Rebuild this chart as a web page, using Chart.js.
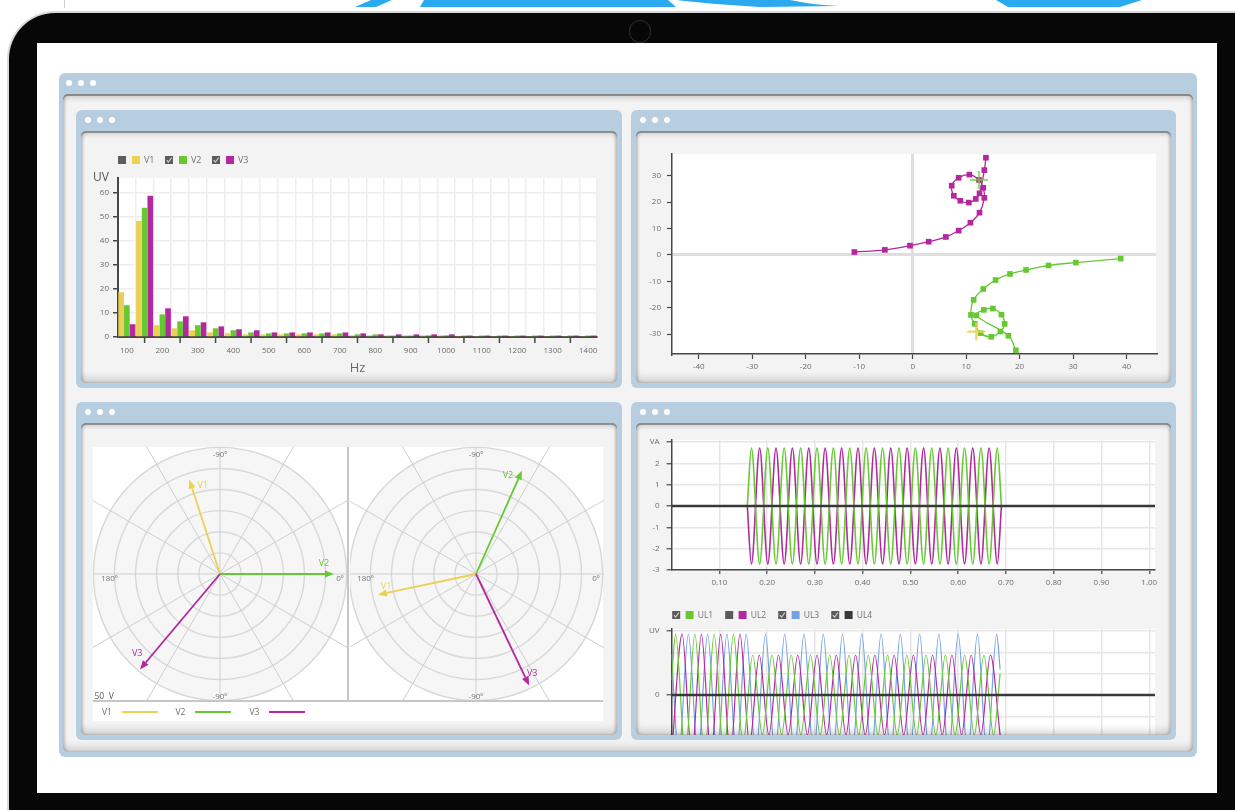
<!DOCTYPE html>
<html lang="en">
<head>
<meta charset="utf-8">
<title>Power quality dashboard</title>
<script src="https://cdn.jsdelivr.net/npm/chart.js@4.4.1/dist/chart.umd.min.js"></script>
<style>
  html, body { margin: 0; padding: 0; }
  body { position: relative; width: 1235px; height: 810px; overflow: hidden; background: #fff;
         font-family: "Open Sans", "DejaVu Sans", sans-serif; }
  .abs { position: absolute; }
  .tablet { left: 9px; top: 13px; width: 1290px; height: 860px; background: #070707; border-radius: 46px;
            box-shadow: 0 0 0 2px #d9d9d9; }
  .camera { left: 629px; top: 20px; width: 22px; height: 23px; border-radius: 50%; border: 1px solid #2a2a2a; box-sizing: border-box; }
  .screen { left: 37px; top: 43px; width: 1180px; height: 750px; background: #fff; }
  .frame { background: #b7cde0; border-radius: 6px; }
  .dot { width: 6px; height: 6px; border-radius: 50%; background: #fff; }
  .inner { background: #f3f3f3; border-radius: 5px; overflow: hidden; }
  .shade { border-radius: 5px; pointer-events: none;
           box-shadow: inset 0 2px 0 rgba(105,105,105,.6), inset 0 4px 4px rgba(0,0,0,.14),
                       inset 2px 0 3px rgba(0,0,0,.16), inset -2px 0 3px rgba(0,0,0,.16),
                       inset 0 -8px 8px -4px rgba(0,0,0,.17); }
  canvas { position: absolute; display: block; }
  .clip { position: absolute; overflow: hidden; }
  .whitebox { position: absolute; background: #fff; }
  .divider { position: absolute; background: #c6c6c6; }
  .cap { position: absolute; font-size: 8.5px; color: #6e6e6e; line-height: 10px; white-space: nowrap; }
  .swatch { position: absolute; height: 2px; }
</style>
</head>
<body>

<svg class="abs" style="left:0;top:0" width="1235" height="12">
  <line x1="64.5" y1="0" x2="64.5" y2="8" stroke="#cfcfcf" stroke-width="1"/>
  <polygon points="371,0 392,0 376,7 355,7" fill="#2aa9ef"/>
  <polygon points="424,0 668,0 676,7 420,7" fill="#2aa9ef"/>
  <path d="M676,0 L790,0 C805,3 818,5 838,6 L760,7 C730,5 700,3 676,0 Z" fill="#2aa9ef"/>
  <polygon points="996,0 1142,0 1120,7 1008,7" fill="#2aa9ef"/>
</svg>

<div class="abs tablet"></div>
<div class="abs camera"></div>
<div class="abs screen"></div>

<!-- outer window -->
<div class="abs frame" style="left:59px;top:73px;width:1138px;height:684px"></div>
<div class="abs dot" style="left:66px;top:80px"></div>
<div class="abs dot" style="left:78px;top:80px"></div>
<div class="abs dot" style="left:90px;top:80px"></div>
<div class="abs inner" style="left:63px;top:94px;width:1130px;height:658px"></div>

<!-- four panel frames -->
<div class="abs frame" style="left:76px;top:110px;width:546px;height:278px"></div>
<div class="abs frame" style="left:631px;top:110px;width:545px;height:278px"></div>
<div class="abs frame" style="left:76px;top:402px;width:546px;height:338px"></div>
<div class="abs frame" style="left:631px;top:402px;width:545px;height:338px"></div>
<div class="abs dot" style="left:85px;top:117px"></div><div class="abs dot" style="left:97px;top:117px"></div><div class="abs dot" style="left:109px;top:117px"></div>
<div class="abs dot" style="left:640px;top:117px"></div><div class="abs dot" style="left:652px;top:117px"></div><div class="abs dot" style="left:664px;top:117px"></div>
<div class="abs dot" style="left:85px;top:409px"></div><div class="abs dot" style="left:97px;top:409px"></div><div class="abs dot" style="left:109px;top:409px"></div>
<div class="abs dot" style="left:640px;top:409px"></div><div class="abs dot" style="left:652px;top:409px"></div><div class="abs dot" style="left:664px;top:409px"></div>

<!-- harmonic spectrum -->
<div class="abs inner" style="left:81px;top:131px;width:536px;height:252px">
  <canvas id="spectrum" width="536" height="252" style="left:0;top:0"></canvas>
</div>

<!-- voltage locus -->
<div class="abs inner" style="left:636px;top:131px;width:535px;height:252px">
  <canvas id="locus" width="535" height="252" style="left:0;top:0"></canvas>
</div>

<!-- phasor dials -->
<div class="abs inner" style="left:81px;top:423px;width:536px;height:312px">
  <div class="whitebox" style="left:12px;top:24px;width:510px;height:274px"></div>
  <div class="clip" style="left:12px;top:24px;width:254px;height:253px">
    <canvas id="dialA" width="380" height="380" style="left:-63.5px;top:-63px"></canvas>
  </div>
  <div class="clip" style="left:268.5px;top:24px;width:254px;height:253px">
    <canvas id="dialB" width="380" height="380" style="left:-63.5px;top:-63px"></canvas>
  </div>
  <div class="divider" style="left:265.5px;top:24px;width:2.5px;height:254px"></div>
  <div class="divider" style="left:12px;top:276.5px;width:510px;height:2.5px"></div>
  <div class="cap" style="left:13.5px;top:268px;color:#5a5a5a">50&nbsp;&nbsp;V</div>
  <div id="dialLegend"></div>
</div>

<!-- waveforms -->
<div class="abs inner" style="left:636px;top:423px;width:535px;height:312px">
  <canvas id="waveVA" width="535" height="170" style="left:0;top:2px"></canvas>
  <canvas id="waveUV" width="535" height="170" style="left:0;top:182px"></canvas>
</div>

<div class="abs shade" style="left:63px;top:94px;width:1130px;height:658px;box-shadow:inset 0 2px 0 rgba(105,105,105,.65), inset 0 4px 5px rgba(0,0,0,.16), inset 2px 0 3px rgba(0,0,0,.14), inset -2px 0 3px rgba(0,0,0,.14), inset 0 -8px 8px -4px rgba(0,0,0,.16)"></div>
<div class="abs shade" style="left:81px;top:131px;width:536px;height:252px"></div>
<div class="abs shade" style="left:636px;top:131px;width:535px;height:252px"></div>
<div class="abs shade" style="left:81px;top:423px;width:536px;height:312px"></div>
<div class="abs shade" style="left:636px;top:423px;width:535px;height:312px"></div>

<script>
// ---------- harmonic spectrum ----------
const hzLabels = ['100','150','200','250','300','350','400','450','500','550','600','650','700','750',
                  '800','850','900','950','1000','1050','1100','1150','1200','1250','1300','1350','1400'];
const v1Levels = [18.6,48.2,4.9,3.6,2.8,1.9,1.5,1.1,1.1,1.1,1.1,1.1,1.1,0.7,0.7,0.7,0.7,0.7,0.7,0.4,0.4,0.4,0.4,0.4,0.4,0.4,0.4];
const v2Levels = [13.2,53.6,9.4,6.5,4.9,3.6,2.8,1.9,1.5,1.5,1.5,1.5,1.5,1.1,1.1,0.6,0.6,0.7,0.7,0.6,0.6,0.6,0.6,0.6,0.6,0.6,0.6];
const v3Levels = [5.3,58.6,11.9,8.6,6.1,4.4,3.2,2.8,1.9,1.9,1.9,1.9,1.9,1.5,1.1,1.1,1.1,1.1,1.1,0.6,0.6,0.6,0.6,0.6,0.6,0.6,0.6];
const spectrumTicks = [0, 10, 20, 30, 40, 50, 60, 66];
const spectrumUnitTick = 66;

// ---------- voltage locus (real / imaginary parts) ----------
const v3LocusRe = [-10.9,-5.2,-0.5,3.0,6.2,8.6,10.8,12.5,13.4,13.2,12.4,10.6,8.6,7.3,7.7,8.9,10.5,11.8,12.5,13.4,13.7];
const v3LocusIm = [1.1,1.9,3.5,5.0,6.8,9.2,12.2,16.0,21.6,25.4,28.4,30.4,29.2,26.2,22.4,20.5,19.8,21.2,23.3,32.1,36.8];
const v2LocusRe = [38.9,30.5,25.4,21.2,18.2,15.5,13.2,11.4,10.9,11.6,12.7,14.7,16.4,17.2,16.6,15.0,13.3,11.9,17.9,19.3];
const v2LocusIm = [-1.4,-2.9,-4.0,-5.7,-7.2,-9.5,-12.9,-17.0,-22.7,-26.1,-29.6,-31.0,-29.0,-26.1,-22.6,-20.3,-20.8,-22.9,-30.6,-36.1];
const v2RefRe = [12.4], v2RefIm = [28.4];
const v1RefRe = [11.9], v1RefIm = [-29.0];
const reTicks = [-40,-30,-20,-10,0,10,20,30,40];
const imTicks = [-30,-20,-10,0,10,20,30];

// ---------- phasors (degrees, clockwise from 0º; volts) ----------
const phasorNames = ['V1','V2','V3'];
const dialLabels = ['-90º','','','0º','','','-90º','','','180º','',''];
const phasorAnglesA = [-108, 0, 130];
const phasorVoltsA = [47, 54, 59];
const phasorAnglesB = [168, -66, 64.5];
const phasorVoltsB = [47.5, 53.5, 58.5];

// ---------- waveforms: turning points of each trace (s, value) ----------
const timeTicks = [0.1,0.2,0.3,0.4,0.5,0.6,0.7,0.8,0.9,1.0];
const vaTicks = [-3,-2,-1,0,1,2,3];
const vaTimes = [0.1585,0.1671,0.1843,0.2014,0.2186,0.2357,0.2529,0.2701,0.2872,0.3044,0.3215,0.3387,0.3559,0.3730,0.3902,0.4073,
                 0.4245,0.4417,0.4588,0.4760,0.4931,0.5103,0.5275,0.5446,0.5618,0.5789,0.5961,0.6133,0.6304,0.6476,0.6647,0.6819,0.6905];
const vaUL1 = [0, 2.72,-2.72, 2.72,-2.72, 2.72,-2.72, 2.72,-2.72, 2.72,-2.72, 2.72,-2.72, 2.72,-2.72, 2.72,-2.72,
               2.72,-2.72, 2.72,-2.72, 2.72,-2.72, 2.72,-2.72, 2.72,-2.72, 2.72,-2.72, 2.72,-2.72, 2.72, 0];
const vaUL2 = [0,-2.72, 2.72,-2.72, 2.72,-2.72, 2.72,-2.72, 2.72,-2.72, 2.72,-2.72, 2.72,-2.72, 2.72,-2.72, 2.72,
               -2.72, 2.72,-2.72, 2.72,-2.72, 2.72,-2.72, 2.72,-2.72, 2.72,-2.72, 2.72,-2.72, 2.72,-2.72, 0];

const uvTicks = [-3,-2,-1,0,1,2,3];
const ul1Times = [0,0.0084,0.0286,0.0487,0.0689,0.0891,0.1093,0.1294,0.1496,0.1698,0.1900,0.2101,0.2303,0.2504,0.2706,0.2908,0.3110,0.3311,
                  0.3513,0.3715,0.3917,0.4118,0.4320,0.4521,0.4723,0.4925,0.5127,0.5328,0.5530,0.5732,0.5934,0.6135,0.6337,0.6538,0.6740,0.6878];
const ul1Values = [0.7, 2.86,-2.86, 2.86,-2.86, 2.86,-2.86, 2.86,-2.3,
                   1.88,-1.88, 1.88,-1.88, 1.88,-1.88, 1.88,-1.88, 1.88,-1.88, 1.88,-1.88, 1.88,-1.88,
                   1.88,-1.88, 1.88,-1.88, 1.88,-1.88, 1.88,-1.88, 1.88,-1.88, 1.88,-1.88, 1.0];
const ul2Times = [0,0.0221,0.0423,0.0624,0.0826,0.1028,0.1230,0.1431,0.1633,0.1835,0.2037,0.2238,0.2440,0.2641,0.2843,0.3045,0.3247,0.3448,
                  0.3650,0.3852,0.4054,0.4255,0.4457,0.4658,0.4860,0.5062,0.5264,0.5465,0.5667,0.5869,0.6071,0.6272,0.6474,0.6675,0.6878];
const ul2Values = [-2.8, 2.86,-2.86, 2.86,-2.86, 2.86,-2.86, 2.86,-2.3,
                   1.88,-1.88, 1.88,-1.88, 1.88,-1.88, 1.88,-1.88, 1.88,-1.88, 1.88,-1.88, 1.88,-1.88,
                   1.88,-1.88, 1.88,-1.88, 1.88,-1.88, 1.88,-1.88, 1.88,-1.88, 1.88,-1.88];
const ul3Times = [0,0.0149,0.0351,0.0552,0.0754,0.0956,0.1158,0.1359,0.1561,0.1763,0.1965,0.2166,0.2368,0.2569,0.2771,0.2973,0.3175,0.3376,
                  0.3578,0.3780,0.3982,0.4183,0.4385,0.4586,0.4788,0.4990,0.5192,0.5393,0.5595,0.5797,0.5999,0.6200,0.6402,0.6603,0.6805,0.6878];
const ul3Values = [1.9, -2.86,2.86, -2.86,2.86, -2.86,2.86, -2.86,2.86, -2.86,2.86, -2.86,2.86, -2.86,2.86, -2.86,2.86, -2.86,2.86,
                   -2.86,2.86, -2.86,2.86, -2.86,2.86, -2.86,2.86, -2.86,2.86, -2.86,2.86, -2.86,2.86, -2.86,2.86, 1.2];
const ul4Times = [0, 1.012];
const ul4Values = [0, 0];

// ---------- styling ----------
const C = { yellow: '#ecd052', green: '#66c932', magenta: '#b3279f', blue: '#74a1e6', dark: '#383838' };
const INK = '#474747';
const GRID = '#eeeeee';
const CLEAR = 'rgba(0,0,0,0)';

Chart.defaults.font.family = '"Open Sans", "DejaVu Sans", sans-serif';
Chart.defaults.font.size = 8;
Chart.defaults.color = '#6b6b6b';

const pts = (xs, ys) => xs.map((x, i) => ({ x, y: ys[i] }));
const fixed = { responsive: false, animation: false, devicePixelRatio: 1 };
const quiet = { legend: { display: false }, tooltip: { enabled: false } };

// white plotting field behind the data
const plotBackground = {
  id: 'plotBackground',
  beforeDraw(chart) {
    const { ctx, chartArea: a } = chart;
    ctx.save();
    ctx.fillStyle = '#fff';
    ctx.fillRect(a.left, a.top, a.right - a.left, a.bottom - a.top);
    ctx.restore();
  }
};

// legend row: tick box, colour chip, series name
function checkboxLegend(cfg) {
  return {
    id: 'checkboxLegend',
    afterDraw(chart) {
      const ctx = chart.ctx;
      ctx.save();
      chart.data.datasets.forEach((ds, i) => {
        const x = cfg.x + i * cfg.spacing, y = cfg.y;
        ctx.fillStyle = '#5c5c5c';
        ctx.fillRect(x, y - 4, 8, 8);
        if (!(cfg.plain || []).includes(i)) {
          ctx.strokeStyle = '#d0d0d0';
          ctx.lineWidth = 1.1;
          ctx.beginPath();
          ctx.moveTo(x + 1.7, y + 0.2); ctx.lineTo(x + 3.4, y + 2.2); ctx.lineTo(x + 6.6, y - 2.4);
          ctx.stroke();
        }
        ctx.fillStyle = ds.chipColor || ds.backgroundColor || ds.borderColor;
        ctx.fillRect(x + cfg.chip, y - 4, 8, 8);
        ctx.fillStyle = '#727272';
        ctx.font = cfg.font;
        ctx.textBaseline = 'middle';
        ctx.fillText(ds.label, x + cfg.text, y + 0.5);
      });
      ctx.restore();
    }
  };
}

// short marks under the axis at the unlabelled harmonics
const betweenMarks = {
  id: 'betweenMarks',
  afterDraw(chart) {
    const sx = chart.scales.x, b = chart.chartArea.bottom, ctx = chart.ctx;
    ctx.save();
    ctx.strokeStyle = INK;
    ctx.lineWidth = 1.5;
    hzLabels.forEach((_, i) => {
      if (i % 2 === 1) {
        const px = sx.getPixelForValue(i);
        ctx.beginPath(); ctx.moveTo(px, b + 1); ctx.lineTo(px, b + 6); ctx.stroke();
      }
    });
    ctx.restore();
  }
};

// ---------- spectrum chart ----------
new Chart(document.getElementById('spectrum'), {
  type: 'bar',
  data: {
    labels: hzLabels,
    datasets: [
      { label: 'V1', data: v1Levels, backgroundColor: C.yellow },
      { label: 'V2', data: v2Levels, backgroundColor: C.green },
      { label: 'V3', data: v3Levels, backgroundColor: C.magenta }
    ]
  },
  options: {
    ...fixed,
    layout: { padding: { top: 47, right: 20, left: 0, bottom: 0 } },
    datasets: { bar: { categoryPercentage: 0.96, barPercentage: 1, borderWidth: 0 } },
    plugins: quiet,
    scales: {
      x: {
        grid: { offset: true, color: GRID, lineWidth: 1.5, drawTicks: false },
        border: { color: INK, width: 2 },
        ticks: { autoSkip: false, maxRotation: 0, padding: 9, callback: (v, i) => (i % 2 === 0 ? hzLabels[i] : '') },
        title: { display: true, text: 'Hz', font: { size: 13 }, color: '#6a6a6a', padding: { top: 0, bottom: 7 } },
        afterFit: s => { s.height = 46; }
      },
      y: {
        min: 0, max: spectrumUnitTick,
        afterBuildTicks: s => { s.ticks = spectrumTicks.map(v => ({ value: v })); },
        afterFit: s => { s.width = 37; },
        grid: {
          color: c => (c.tick && c.tick.value === spectrumUnitTick ? CLEAR : GRID), lineWidth: 1.5,
          tickLength: 5, tickWidth: 1.5,
          tickColor: c => (c.tick && c.tick.value === spectrumUnitTick ? CLEAR : INK)
        },
        border: { color: INK, width: 2 },
        ticks: {
          padding: 4,
          callback: v => (v === spectrumUnitTick ? 'UV' : v),
          font: c => (c.tick && c.tick.value === spectrumUnitTick ? { size: 12 } : { size: 8 }),
          color: c => (c.tick && c.tick.value === spectrumUnitTick ? '#555' : '#6b6b6b')
        }
      }
    }
  },
  plugins: [plotBackground, betweenMarks,
            checkboxLegend({ x: 37, y: 29, spacing: 47, chip: 14, text: 26, plain: [0], font: '9px "Open Sans", sans-serif' })]
});

// ---------- locus chart ----------
const zeroOnly = c => (c.tick && c.tick.value === 0 ? '#dedede' : CLEAR);
new Chart(document.getElementById('locus'), {
  type: 'scatter',
  data: {
    datasets: [
      { label: 'V3', data: pts(v3LocusRe, v3LocusIm), showLine: true, borderColor: C.magenta, backgroundColor: C.magenta,
        borderWidth: 1.3, pointStyle: 'rect', pointRadius: 4, pointBorderWidth: 0, tension: 0.4 },
      { label: 'V2', data: pts(v2LocusRe, v2LocusIm), showLine: true, borderColor: C.green, backgroundColor: C.green,
        borderWidth: 1.3, pointStyle: 'rect', pointRadius: 4, pointBorderWidth: 0, tension: 0.4 },
      { label: 'V2 ref', data: pts(v2RefRe, v2RefIm), pointStyle: 'cross', pointRadius: 9, borderWidth: 2.2,
        borderColor: 'rgba(110,205,60,0.7)', order: -1 },
      { label: 'V1 ref', data: pts(v1RefRe, v1RefIm), pointStyle: 'cross', pointRadius: 9, borderWidth: 2.2,
        borderColor: 'rgba(238,205,85,0.85)', order: -1 }
    ]
  },
  options: {
    ...fixed,
    layout: { padding: { top: 23, right: 15, left: 0, bottom: 0 } },
    plugins: quiet,
    scales: {
      x: {
        type: 'linear', min: -45, max: 45.5,
        afterBuildTicks: s => { s.ticks = reTicks.map(v => ({ value: v })); },
        afterFit: s => { s.height = 29; },
        grid: { color: zeroOnly, lineWidth: 3, tickLength: 5, tickColor: INK, tickWidth: 1.2 },
        border: { color: INK, width: 1.5 },
        ticks: { padding: 3, maxRotation: 0 }
      },
      y: {
        min: -37.5, max: 38.2,
        afterBuildTicks: s => { s.ticks = imTicks.map(v => ({ value: v })); },
        afterFit: s => { s.width = 36; },
        grid: { color: zeroOnly, lineWidth: 3, tickLength: 5, tickColor: INK, tickWidth: 1.2 },
        border: { color: INK, width: 1.5 },
        ticks: { padding: 6 }
      }
    }
  },
  plugins: [plotBackground]
});

// ---------- phasor dials ----------
const dialRing = 60;               // outermost drawn ring, volts
const dialCaption = { 0: { v: 56.7, align: 'center', dy: 0 }, 3: { v: 58.6, align: 'right', dy: 5 },
                      6: { v: 58.1, align: 'center', dy: 0 }, 9: { v: 56.3, align: 'left', dy: 5 } };
const phasorColors = [C.yellow, C.green, C.magenta];

function dialPlugin(angles, volts, nameTurn) {
  return {
    id: 'dial',
    beforeDraw(chart) {
      const s = chart.scales.r, ctx = chart.ctx;
      ctx.save();
      ctx.fillStyle = '#f6f6f6';
      ctx.beginPath();
      ctx.arc(s.xCenter, s.yCenter, s.getDistanceFromCenterForValue(dialRing), 0, Math.PI * 2);
      ctx.fill();
      ctx.restore();
    },
    afterDraw(chart) {
      const s = chart.scales.r, ctx = chart.ctx;
      ctx.save();
      ctx.font = '8px "Open Sans", sans-serif';
      ctx.fillStyle = '#777';
      ctx.textBaseline = 'middle';
      chart.data.labels.forEach((text, i) => {
        if (!text) return;
        const cap = dialCaption[i];
        const p = s.getPointPosition(i, s.getDistanceFromCenterForValue(cap.v));
        ctx.textAlign = cap.align;
        ctx.fillText(text, p.x, p.y + cap.dy);
      });
      angles.forEach((deg, i) => {
        const a = deg * Math.PI / 180;
        const r = s.getDistanceFromCenterForValue(volts[i]);
        const tx = s.xCenter + r * Math.cos(a), ty = s.yCenter + r * Math.sin(a);
        const head = 9, half = 3.6;
        const bx = tx - head * Math.cos(a), by = ty - head * Math.sin(a);
        ctx.strokeStyle = phasorColors[i];
        ctx.fillStyle = phasorColors[i];
        ctx.lineWidth = 1.8;
        ctx.beginPath(); ctx.moveTo(s.xCenter, s.yCenter); ctx.lineTo(bx, by); ctx.stroke();
        ctx.beginPath();
        ctx.moveTo(tx, ty);
        ctx.lineTo(bx - half * Math.sin(a), by + half * Math.cos(a));
        ctx.lineTo(bx + half * Math.sin(a), by - half * Math.cos(a));
        ctx.closePath(); ctx.fill();
        const la = (deg + nameTurn[i]) * Math.PI / 180;
        const lr = s.getDistanceFromCenterForValue(volts[i] - 4.5);
        ctx.font = '9px "Open Sans", sans-serif';
        ctx.textAlign = 'center';
        ctx.fillText(phasorNames[i], s.xCenter + lr * Math.cos(la), s.yCenter + lr * Math.sin(la));
      });
      ctx.restore();
    }
  };
}

function dial(id, angles, volts, nameTurn) {
  return new Chart(document.getElementById(id), {
    type: 'radar',
    data: { labels: dialLabels, datasets: [] },
    options: {
      ...fixed,
      plugins: quiet,
      scales: {
        r: {
          min: 0, max: 90, startAngle: 0,
          ticks: { display: false, stepSize: 10 },
          pointLabels: { display: false },
          grid: { circular: true, lineWidth: 1.4, color: c => (c.tick && c.tick.value <= dialRing ? '#d8d8d8' : CLEAR) },
          angleLines: { color: '#cfcfcf', lineWidth: 1 }
        }
      }
    },
    plugins: [dialPlugin(angles, volts, nameTurn)]
  });
}
dial('dialA', phasorAnglesA, phasorVoltsA, [7, -6, 6]);
dial('dialB', phasorAnglesB, phasorVoltsB, [4, -6, -4]);

// legend under the dials
(function () {
  const host = document.getElementById('dialLegend');
  const lefts = [21, 94.5, 168.5];
  phasorNames.forEach((name, i) => {
    const t = document.createElement('div');
    t.className = 'cap';
    t.style.left = lefts[i] + 'px';
    t.style.top = '284px';
    t.textContent = name;
    host.appendChild(t);
    const sw = document.createElement('div');
    sw.className = 'swatch';
    sw.style.left = (lefts[i] + 19.5) + 'px';
    sw.style.top = '288px';
    sw.style.width = '36px';
    sw.style.background = phasorColors[i];
    host.appendChild(sw);
  });
})();

// ---------- waveform charts ----------
function waveScales(yTicks, labelFor, showX, xHeight) {
  return {
    x: {
      type: 'linear', min: 0, max: 1.012,
      afterBuildTicks: s => { s.ticks = timeTicks.map(v => ({ value: v })); },
      afterFit: s => { s.height = xHeight; },
      grid: { color: '#e6e6e6', lineWidth: 1.5, tickLength: 4, tickColor: INK, tickWidth: 1.2 },
      border: { color: INK, width: 1.5 },
      ticks: { display: showX, padding: 4, maxRotation: 0, callback: v => v.toFixed(2) }
    },
    y: {
      min: -3, max: 3.1,
      afterBuildTicks: s => { s.ticks = yTicks.map(v => ({ value: v })); },
      afterFit: s => { s.width = 35.6; },
      grid: { color: '#e6e6e6', lineWidth: 1.5, tickLength: 5, tickWidth: 1.2,
              tickColor: c => (labelFor(c.tick ? c.tick.value : 0) === '' ? CLEAR : INK) },
      border: { color: INK, width: 1.5 },
      ticks: { padding: 7, callback: v => labelFor(v) }
    }
  };
}
const waveLine = { cubicInterpolationMode: 'monotone', pointRadius: 0, fill: false };

// bold reference line at zero, drawn above the traces
const zeroRule = {
  id: 'zeroRule',
  afterDatasetsDraw(chart) {
    const y = chart.scales.y.getPixelForValue(0), a = chart.chartArea, ctx = chart.ctx;
    ctx.save();
    ctx.strokeStyle = C.dark; ctx.lineWidth = 2.5;
    ctx.beginPath(); ctx.moveTo(a.left, y); ctx.lineTo(a.right, y); ctx.stroke();
    ctx.restore();
  }
};

new Chart(document.getElementById('waveVA'), {
  type: 'line',
  data: {
    datasets: [
      { label: 'UL1', data: pts(vaTimes, vaUL1), borderColor: C.green, borderWidth: 1.6, ...waveLine },
      { label: 'UL2', data: pts(vaTimes, vaUL2), borderColor: C.magenta, borderWidth: 1.6, ...waveLine }
    ]
  },
  options: {
    ...fixed,
    layout: { padding: { top: 15, right: 16, left: 0, bottom: 0 } },
    plugins: quiet,
    scales: waveScales(vaTicks, v => (v === 3 ? 'VA' : String(v)), true, 25)
  },
  plugins: [plotBackground, zeroRule]
});

new Chart(document.getElementById('waveUV'), {
  type: 'line',
  data: {
    datasets: [
      { label: 'UL1', data: pts(ul1Times, ul1Values), borderColor: C.green, borderWidth: 1.2, ...waveLine },
      { label: 'UL2', data: pts(ul2Times, ul2Values), borderColor: C.magenta, borderWidth: 1.2, ...waveLine },
      { label: 'UL3', data: pts(ul3Times, ul3Values), borderColor: C.blue, borderWidth: 1.2, ...waveLine },
      { label: 'UL4', data: pts(ul4Times, ul4Values), borderColor: C.dark, borderWidth: 2.5, pointRadius: 0, order: -1 }
    ]
  },
  options: {
    ...fixed,
    layout: { padding: { top: 24, right: 16, left: 0, bottom: 0 } },
    plugins: quiet,
    scales: waveScales(uvTicks, v => (v === 3 ? 'UV' : v === 0 ? '0' : ''), false, 16)
  },
  plugins: [plotBackground,
            checkboxLegend({ x: 36.2, y: 10, spacing: 53, chip: 13.4, text: 25.5, plain: [1], font: '8.5px "Open Sans", sans-serif' })]
});
</script>
</body>
</html>
